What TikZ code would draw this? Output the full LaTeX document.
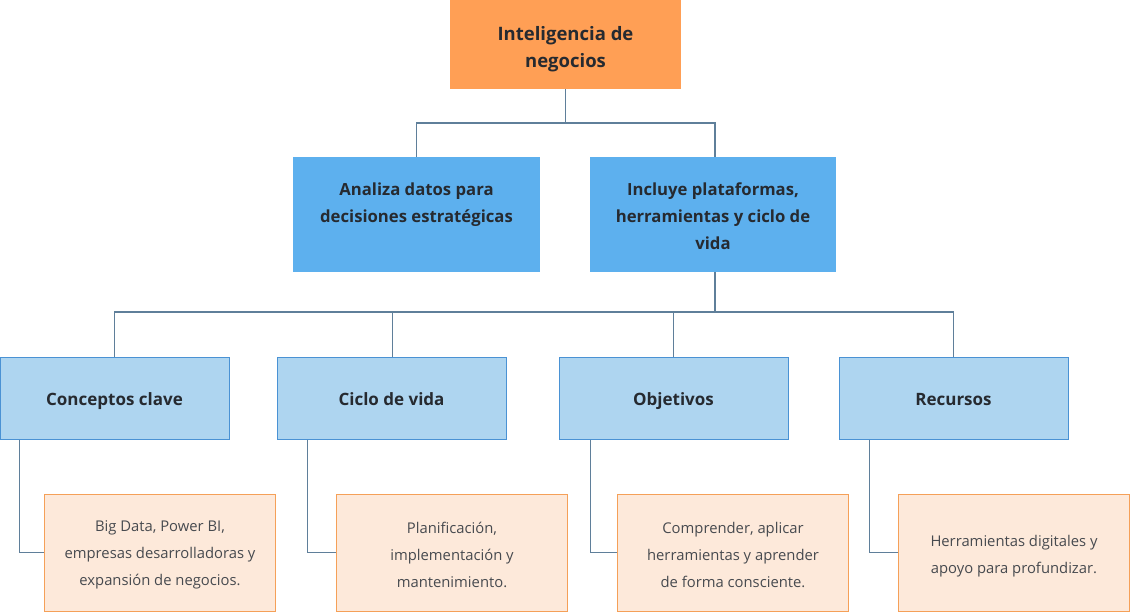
\documentclass[tikz,border=0pt]{standalone}
\usepackage{fontspec}
\setmainfont{Open Sans}
\definecolor{rootfill}{HTML}{FF9F55}
\definecolor{midfill}{HTML}{5DB0EE}
\definecolor{catfill}{HTML}{AED5F0}
\definecolor{catline}{HTML}{4A92D4}
\definecolor{leaffill}{HTML}{FDE9DA}
\definecolor{leafline}{HTML}{F5A058}
\definecolor{conn}{HTML}{5F7F9A}
\definecolor{txt}{HTML}{262A30}
\tikzset{
  rootbox/.style={rectangle, fill=rootfill, minimum width=231pt, minimum height=89pt, inner sep=0pt},
  midbox/.style={rectangle, fill=midfill, minimum width=247pt, minimum height=115pt, inner sep=0pt},
  catbox/.style={rectangle, fill=catfill, draw=catline, line width=1pt, minimum width=229pt, minimum height=82pt, inner sep=0pt},
  leafbox/.style={rectangle, fill=leaffill, draw=leafline, line width=1pt, minimum width=231pt, minimum height=117pt, inner sep=0pt},
  roottext/.style={inner sep=0pt, align=center, text=txt, yshift=-5pt, font=\fontsize{18.5}{27}\selectfont\bfseries},
  midtext/.style={inner sep=0pt, align=center, text=txt, yshift=-1.5pt, font=\fontsize{16.7}{27}\selectfont\bfseries},
  cattext/.style={inner sep=0pt, text=txt, text height=12.9pt, text depth=4.1pt, yshift=-3pt, font=\fontsize{17}{27}\selectfont\bfseries},
  leaftext/.style={inner sep=0pt, align=center, text=txt!85, yshift=-2.5pt, font=\fontsize{14.8}{27}\selectfont},
  link/.style={draw=conn, line width=1.6pt}
}
\begin{document}
\begin{tikzpicture}[x=1pt,y=-1pt]
\useasboundingbox (0,0) rectangle (1131,612);
\node[rootbox, label={[roottext]center:{Inteligencia de\\negocios}}] (root) at (565.5,44.5) {};
\node[midbox, label={[midtext]center:{Analiza datos para\\decisiones estratégicas\\\mbox{}}}] (a) at (416.5,214.5) {};
\node[midbox, minimum width=246pt, label={[midtext]center:{Incluye plataformas,\\herramientas y ciclo de\\vida}}] (b) at (713,214.5) {};
\node[catbox, label={[cattext]center:Conceptos clave}] (c1) at (114.5,398) {};
\node[catbox, label={[cattext]center:Ciclo de vida}] (c2) at (391.5,398) {};
\node[catbox, label={[cattext]center:Objetivos}] (c3) at (673.5,398) {};
\node[catbox, label={[cattext]center:Recursos}] (c4) at (953.5,398) {};
\node[leafbox, label={[leaftext]center:{Big Data, Power BI,\\empresas desarrolladoras y\\expansión de negocios.}}] (l1) at (160,552.5) {};
\node[leafbox, label={[leaftext]center:{Planificación,\\implementación y\\mantenimiento.}}] (l2) at (452,552.5) {};
\node[leafbox, label={[leaftext]center:{Comprender, aplicar\\herramientas y aprender\\de forma consciente.}}] (l3) at (733,552.5) {};
\node[leafbox, label={[leaftext, yshift=-1pt]center:{Herramientas digitales y\\apoyo para profundizar.}}] (l4) at (1014,552.5) {};
\coordinate (j1) at (565.5,123);
\coordinate (j2) at (715,312);
\draw[link] (root.south) -- (j1) -| (a.north);
\draw[link] (j1) -| ([xshift=2pt]b.north);
\draw[link] ([xshift=2pt]b.south) -- (j2) -| (c1.north);
\draw[link] (j2) -| ([xshift=1pt]c2.north);
\draw[link] (j2) -| (c3.north);
\draw[link] (j2) -| (c4.north);
\draw[link] ([xshift=20pt]c1.south west) |- (l1.west);
\draw[link] ([xshift=31pt]c2.south west) |- (l2.west);
\draw[link] ([xshift=32pt]c3.south west) |- (l3.west);
\draw[link] ([xshift=31pt]c4.south west) |- (l4.west);
\end{tikzpicture}
\end{document}
